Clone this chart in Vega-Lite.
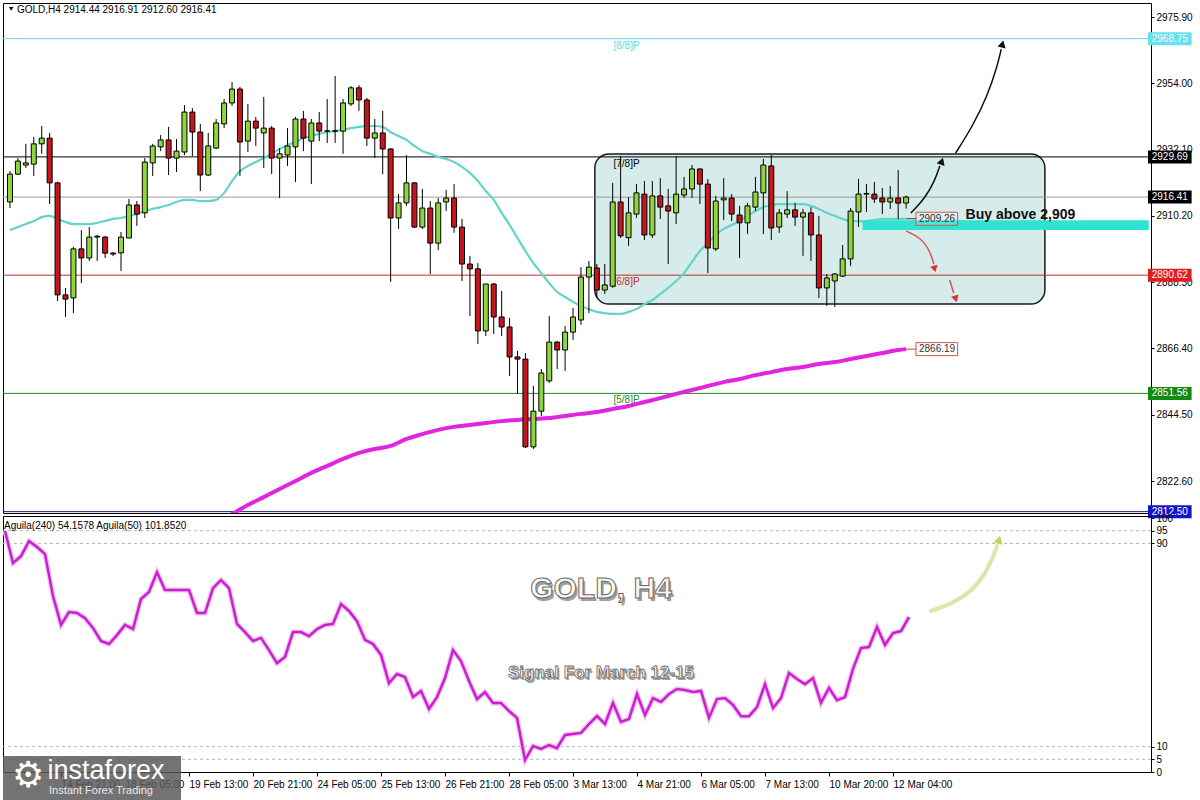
{
  "$schema": "https://vega.github.io/schema/vega-lite/v6.json",
  "background": "white",
  "padding": {"left": 2, "top": 2, "right": 0, "bottom": 0},
  "spacing": 3,
  "bounds": "flush",
  "config": {
    "view": {"stroke": "#000", "strokeWidth": 1},
    "font": "Liberation Sans",
    "axis": {"labelFont": "Liberation Sans", "labelFontSize": 10, "labelColor": "#000", "tickColor": "#000", "grid": false, "domain": false, "tickSize": 3, "labelPadding": 2, "labelOverlap": false, "labelFlush": false}
  },
  "datasets": {
    "bars": [
      {"i":0,"o":2914.8,"h":2925.0,"l":2912.8,"c":2924.0,"m":2905.5,"a":94.9},
      {"i":1,"o":2924.0,"h":2929.3,"l":2923.7,"c":2928.3,"m":2906.5,"a":82.3},
      {"i":2,"o":2927.0,"h":2934.0,"l":2926.0,"c":2927.7,"m":2907.5,"a":85.0},
      {"i":3,"o":2927.3,"h":2936.3,"l":2923.4,"c":2934.0,"m":2908.5,"a":90.9},
      {"i":4,"o":2934.0,"h":2939.9,"l":2930.7,"c":2935.9,"m":2909.8,"a":88.6},
      {"i":5,"o":2935.9,"h":2937.6,"l":2914.1,"c":2921.1,"m":2910.2,"a":85.8},
      {"i":6,"o":2921.1,"h":2921.5,"l":2882.1,"c":2884.1,"m":2909.2,"a":69.3},
      {"i":7,"o":2884.1,"h":2886.4,"l":2876.8,"c":2882.7,"m":2908.2,"a":57.9},
      {"i":8,"o":2883.1,"h":2899.9,"l":2878.1,"c":2899.3,"m":2907.5,"a":63.0},
      {"i":9,"o":2899.3,"h":2905.5,"l":2888.0,"c":2896.3,"m":2907.5,"a":62.6},
      {"i":10,"o":2896.3,"h":2906.5,"l":2895.3,"c":2903.2,"m":2907.5,"a":60.6},
      {"i":11,"o":2903.2,"h":2903.9,"l":2895.3,"c":2903.5,"m":2907.9,"a":56.7},
      {"i":12,"o":2903.2,"h":2903.6,"l":2896.3,"c":2897.9,"m":2908.5,"a":51.6},
      {"i":13,"o":2897.9,"h":2898.3,"l":2896.9,"c":2897.6,"m":2909.2,"a":50.4},
      {"i":14,"o":2898.0,"h":2904.9,"l":2892.0,"c":2903.2,"m":2909.5,"a":53.9},
      {"i":15,"o":2902.9,"h":2915.8,"l":2902.9,"c":2913.8,"m":2910.2,"a":57.9},
      {"i":16,"o":2913.8,"h":2915.1,"l":2906.9,"c":2910.8,"m":2910.8,"a":56.3},
      {"i":17,"o":2911.2,"h":2929.3,"l":2909.5,"c":2928.0,"m":2911.8,"a":68.1},
      {"i":18,"o":2927.7,"h":2934.0,"l":2923.4,"c":2933.3,"m":2912.5,"a":70.9},
      {"i":19,"o":2933.0,"h":2936.9,"l":2931.6,"c":2935.3,"m":2913.1,"a":78.7},
      {"i":20,"o":2935.3,"h":2939.6,"l":2923.7,"c":2929.3,"m":2913.8,"a":71.7},
      {"i":21,"o":2929.3,"h":2935.6,"l":2924.7,"c":2931.6,"m":2914.8,"a":71.7},
      {"i":22,"o":2931.3,"h":2946.8,"l":2930.3,"c":2944.5,"m":2915.5,"a":71.7},
      {"i":23,"o":2944.5,"h":2945.8,"l":2930.0,"c":2937.9,"m":2915.5,"a":71.7},
      {"i":24,"o":2937.9,"h":2940.6,"l":2918.4,"c":2923.7,"m":2915.1,"a":62.6},
      {"i":25,"o":2923.7,"h":2937.6,"l":2923.4,"c":2933.3,"m":2915.1,"a":62.6},
      {"i":26,"o":2932.6,"h":2942.2,"l":2932.3,"c":2940.9,"m":2915.5,"a":72.4},
      {"i":27,"o":2940.6,"h":2948.8,"l":2939.2,"c":2947.5,"m":2917.8,"a":75.6},
      {"i":28,"o":2947.5,"h":2954.4,"l":2946.5,"c":2952.1,"m":2921.7,"a":72.4},
      {"i":29,"o":2952.1,"h":2952.8,"l":2923.4,"c":2934.6,"m":2925.0,"a":58.3},
      {"i":30,"o":2934.9,"h":2947.2,"l":2931.3,"c":2941.5,"m":2926.7,"a":55.1},
      {"i":31,"o":2941.5,"h":2942.9,"l":2933.3,"c":2939.2,"m":2928.0,"a":51.6},
      {"i":32,"o":2937.6,"h":2949.5,"l":2926.0,"c":2939.2,"m":2929.3,"a":52.8},
      {"i":33,"o":2939.2,"h":2939.9,"l":2924.0,"c":2929.3,"m":2930.7,"a":48.0},
      {"i":34,"o":2929.3,"h":2932.6,"l":2916.1,"c":2930.7,"m":2932.3,"a":42.9},
      {"i":35,"o":2930.3,"h":2939.2,"l":2926.7,"c":2933.3,"m":2933.6,"a":45.3},
      {"i":36,"o":2933.0,"h":2942.9,"l":2921.4,"c":2942.2,"m":2934.6,"a":55.1},
      {"i":37,"o":2942.2,"h":2944.9,"l":2931.6,"c":2935.9,"m":2935.9,"a":55.1},
      {"i":38,"o":2934.9,"h":2942.2,"l":2920.7,"c":2940.9,"m":2936.6,"a":53.5},
      {"i":39,"o":2940.9,"h":2944.5,"l":2934.9,"c":2938.2,"m":2937.3,"a":56.3},
      {"i":40,"o":2938.2,"h":2948.8,"l":2934.3,"c":2938.3,"m":2937.9,"a":57.9},
      {"i":41,"o":2938.3,"h":2956.4,"l":2934.3,"c":2938.2,"m":2938.2,"a":58.3},
      {"i":42,"o":2938.2,"h":2948.8,"l":2930.7,"c":2947.5,"m":2938.6,"a":66.1},
      {"i":43,"o":2947.2,"h":2953.1,"l":2946.5,"c":2952.5,"m":2939.2,"a":63.4},
      {"i":44,"o":2952.5,"h":2953.4,"l":2944.9,"c":2948.5,"m":2939.6,"a":59.4},
      {"i":45,"o":2948.5,"h":2949.2,"l":2933.3,"c":2935.9,"m":2939.9,"a":52.0},
      {"i":46,"o":2935.9,"h":2942.2,"l":2929.3,"c":2937.6,"m":2939.9,"a":50.4},
      {"i":47,"o":2937.6,"h":2944.9,"l":2924.0,"c":2932.3,"m":2939.6,"a":46.1},
      {"i":48,"o":2932.3,"h":2932.6,"l":2888.4,"c":2909.5,"m":2937.9,"a":35.0},
      {"i":49,"o":2909.5,"h":2917.4,"l":2905.9,"c":2914.5,"m":2936.6,"a":38.6},
      {"i":50,"o":2914.5,"h":2930.3,"l":2913.5,"c":2921.1,"m":2935.3,"a":37.4},
      {"i":51,"o":2921.1,"h":2921.4,"l":2906.2,"c":2906.5,"m":2933.3,"a":29.5},
      {"i":52,"o":2906.5,"h":2919.1,"l":2905.9,"c":2912.8,"m":2931.6,"a":31.9},
      {"i":53,"o":2912.8,"h":2915.1,"l":2891.0,"c":2901.2,"m":2930.7,"a":24.8},
      {"i":54,"o":2901.2,"h":2916.1,"l":2898.9,"c":2914.5,"m":2929.7,"a":29.5},
      {"i":55,"o":2914.8,"h":2918.8,"l":2911.8,"c":2916.1,"m":2929.0,"a":37.0},
      {"i":56,"o":2916.1,"h":2920.7,"l":2904.6,"c":2906.5,"m":2928.0,"a":48.0},
      {"i":57,"o":2906.5,"h":2909.2,"l":2888.7,"c":2894.3,"m":2926.4,"a":43.7},
      {"i":58,"o":2894.3,"h":2897.0,"l":2877.1,"c":2892.7,"m":2924.4,"a":35.8},
      {"i":59,"o":2892.7,"h":2894.6,"l":2867.9,"c":2872.2,"m":2921.7,"a":28.7},
      {"i":60,"o":2872.2,"h":2887.7,"l":2870.5,"c":2887.7,"m":2918.4,"a":31.5},
      {"i":61,"o":2887.7,"h":2888.0,"l":2871.2,"c":2876.8,"m":2915.5,"a":27.2},
      {"i":62,"o":2876.8,"h":2885.4,"l":2870.5,"c":2873.5,"m":2911.2,"a":27.2},
      {"i":63,"o":2873.5,"h":2876.5,"l":2857.3,"c":2863.6,"m":2907.2,"a":24.0},
      {"i":64,"o":2863.6,"h":2865.6,"l":2851.4,"c":2862.9,"m":2902.9,"a":21.3},
      {"i":65,"o":2862.9,"h":2864.9,"l":2833.5,"c":2833.9,"m":2898.6,"a":4.7},
      {"i":66,"o":2833.9,"h":2854.0,"l":2833.2,"c":2845.7,"m":2894.6,"a":10.2},
      {"i":67,"o":2845.7,"h":2859.6,"l":2844.1,"c":2858.3,"m":2891.3,"a":9.1},
      {"i":68,"o":2855.7,"h":2877.1,"l":2855.0,"c":2868.5,"m":2888.0,"a":10.6},
      {"i":69,"o":2868.5,"h":2868.9,"l":2859.6,"c":2865.9,"m":2885.1,"a":9.4},
      {"i":70,"o":2865.9,"h":2873.8,"l":2859.0,"c":2871.8,"m":2883.4,"a":14.6},
      {"i":71,"o":2871.8,"h":2879.8,"l":2869.2,"c":2876.8,"m":2881.8,"a":15.0},
      {"i":72,"o":2875.8,"h":2893.3,"l":2874.2,"c":2890.0,"m":2880.4,"a":15.4},
      {"i":73,"o":2890.0,"h":2895.3,"l":2878.1,"c":2893.3,"m":2879.4,"a":18.9},
      {"i":74,"o":2893.0,"h":2894.3,"l":2883.1,"c":2885.7,"m":2878.5,"a":22.0},
      {"i":75,"o":2885.7,"h":2894.3,"l":2884.4,"c":2887.4,"m":2878.1,"a":18.9},
      {"i":76,"o":2887.0,"h":2921.1,"l":2886.4,"c":2914.8,"m":2877.8,"a":27.2},
      {"i":77,"o":2914.8,"h":2930.0,"l":2902.9,"c":2903.6,"m":2877.8,"a":19.7},
      {"i":78,"o":2903.0,"h":2916.4,"l":2900.3,"c":2911.2,"m":2878.5,"a":20.9},
      {"i":79,"o":2910.8,"h":2920.7,"l":2909.5,"c":2917.8,"m":2879.4,"a":30.7},
      {"i":80,"o":2917.4,"h":2921.7,"l":2902.2,"c":2903.9,"m":2881.1,"a":22.4},
      {"i":81,"o":2903.9,"h":2921.7,"l":2902.9,"c":2916.8,"m":2882.4,"a":29.1},
      {"i":82,"o":2916.8,"h":2922.7,"l":2909.2,"c":2913.1,"m":2884.4,"a":27.6},
      {"i":83,"o":2913.5,"h":2919.1,"l":2894.3,"c":2911.8,"m":2886.4,"a":30.7},
      {"i":84,"o":2911.2,"h":2930.0,"l":2907.5,"c":2917.4,"m":2888.7,"a":32.7},
      {"i":85,"o":2917.1,"h":2923.1,"l":2916.1,"c":2919.1,"m":2891.3,"a":32.3},
      {"i":86,"o":2919.1,"h":2927.0,"l":2916.1,"c":2925.7,"m":2895.0,"a":31.5},
      {"i":87,"o":2925.7,"h":2925.9,"l":2914.1,"c":2920.7,"m":2898.6,"a":31.9},
      {"i":88,"o":2920.7,"h":2922.4,"l":2891.3,"c":2899.6,"m":2901.2,"a":21.3},
      {"i":89,"o":2899.3,"h":2916.8,"l":2898.6,"c":2915.1,"m":2903.9,"a":28.7},
      {"i":90,"o":2915.5,"h":2922.7,"l":2908.8,"c":2916.1,"m":2905.9,"a":29.1},
      {"i":91,"o":2916.1,"h":2917.4,"l":2908.5,"c":2910.8,"m":2907.2,"a":26.4},
      {"i":92,"o":2910.5,"h":2913.5,"l":2896.3,"c":2907.9,"m":2908.5,"a":22.0},
      {"i":93,"o":2907.9,"h":2914.5,"l":2904.2,"c":2913.5,"m":2910.2,"a":22.0},
      {"i":94,"o":2913.1,"h":2923.1,"l":2911.8,"c":2918.1,"m":2911.8,"a":25.6},
      {"i":95,"o":2917.8,"h":2929.0,"l":2904.2,"c":2927.0,"m":2913.1,"a":34.6},
      {"i":96,"o":2926.7,"h":2930.3,"l":2902.2,"c":2906.2,"m":2913.8,"a":25.2},
      {"i":97,"o":2906.5,"h":2912.5,"l":2904.6,"c":2911.2,"m":2914.1,"a":29.1},
      {"i":98,"o":2910.8,"h":2918.4,"l":2909.5,"c":2912.2,"m":2914.1,"a":39.0},
      {"i":99,"o":2912.2,"h":2914.5,"l":2906.9,"c":2909.8,"m":2914.1,"a":36.6},
      {"i":100,"o":2909.8,"h":2912.5,"l":2897.0,"c":2911.2,"m":2914.1,"a":34.6},
      {"i":101,"o":2911.2,"h":2913.1,"l":2895.3,"c":2903.9,"m":2913.5,"a":37.0},
      {"i":102,"o":2903.9,"h":2910.2,"l":2883.1,"c":2886.4,"m":2912.5,"a":27.2},
      {"i":103,"o":2886.4,"h":2891.0,"l":2880.4,"c":2889.7,"m":2911.2,"a":33.1},
      {"i":104,"o":2888.7,"h":2891.3,"l":2880.1,"c":2891.0,"m":2910.2,"a":28.3},
      {"i":105,"o":2890.3,"h":2900.6,"l":2890.0,"c":2896.0,"m":2909.2,"a":29.5},
      {"i":106,"o":2896.0,"h":2912.8,"l":2893.7,"c":2911.8,"m":2908.5,"a":40.6},
      {"i":107,"o":2911.5,"h":2922.4,"l":2906.5,"c":2917.4,"m":2908.5,"a":48.8},
      {"i":108,"o":2917.4,"h":2920.7,"l":2911.5,"c":2917.6,"m":2908.5,"a":49.2},
      {"i":109,"o":2917.4,"h":2921.4,"l":2914.5,"c":2915.8,"m":2908.8,"a":57.1},
      {"i":110,"o":2916.1,"h":2919.4,"l":2910.8,"c":2914.8,"m":2909.2,"a":50.0},
      {"i":111,"o":2914.8,"h":2920.1,"l":2912.5,"c":2916.1,"m":2909.2,"a":54.7},
      {"i":112,"o":2916.1,"h":2925.4,"l":2909.2,"c":2914.4,"m":2909.2,"a":55.5},
      {"i":113,"o":2914.44,"h":2916.91,"l":2912.6,"c":2916.41,"m":2909.26,"a":61.0}
    ],
    "m200": [
      {"i":27,"v":2810.4},{"i":28,"v":2811.7},{"i":30,"v":2814.7},{"i":32,"v":2817.3},{"i":34,"v":2820.0},
      {"i":36,"v":2822.6},{"i":38,"v":2825.3},{"i":40,"v":2827.6},{"i":42,"v":2829.9},{"i":44,"v":2831.9},
      {"i":46,"v":2833.2},{"i":48,"v":2834.2},{"i":50,"v":2836.5},{"i":52,"v":2838.1},{"i":54,"v":2839.5},
      {"i":56,"v":2840.5},{"i":58,"v":2841.1},{"i":60,"v":2841.8},{"i":62,"v":2842.4},{"i":64,"v":2842.8},
      {"i":66,"v":2843.1},{"i":68,"v":2843.4},{"i":70,"v":2844.1},{"i":72,"v":2844.8},{"i":74,"v":2845.4},
      {"i":76,"v":2846.4},{"i":78,"v":2847.4},{"i":80,"v":2848.7},{"i":82,"v":2850.0},{"i":84,"v":2851.4},
      {"i":86,"v":2852.7},{"i":88,"v":2854.0},{"i":90,"v":2855.3},{"i":92,"v":2856.3},{"i":94,"v":2857.6},
      {"i":96,"v":2858.6},{"i":98,"v":2859.6},{"i":100,"v":2860.3},{"i":102,"v":2861.3},{"i":104,"v":2861.9},
      {"i":106,"v":2862.9},{"i":108,"v":2863.9},{"i":110,"v":2864.9},{"i":112,"v":2865.9},{"i":113,"v":2866.19}
    ],
    "lv": [
      {"n":"8/8","p":2968.75,"lab":"[8/8]P"},
      {"n":"7/8","p":2929.69,"lab":"[7/8]P"},
      {"n":"cur","p":2916.41,"lab":""},
      {"n":"6/8","p":2890.62,"lab":"[6/8]P"},
      {"n":"5/8","p":2851.56,"lab":"[5/8]P"},
      {"n":"4/8","p":2812.5,"lab":"[4/8]P"}
    ],
    "arw": [
      {"g":"b1","i":113.6,"p":2911.15},{"g":"b1","i":115.4,"p":2916.1},{"g":"b1","i":116.6,"p":2921.7},{"g":"b1","i":117.25,"p":2926.7},
      {"g":"b2","i":119.25,"p":2930.97},{"g":"b2","i":121.4,"p":2939.9},{"g":"b2","i":123.25,"p":2949.8},{"g":"b2","i":124.5,"p":2959.7},{"g":"b2","i":125.0,"p":2965.3},
      {"g":"r1","i":113.0,"p":2905.2},{"g":"r1","i":114.9,"p":2902.9},{"g":"r1","i":116.0,"p":2898.6},{"g":"r1","i":116.5,"p":2894.3},
      {"g":"r2","i":118.5,"p":2889.0},{"g":"r2","i":119.0,"p":2884.7}
    ],
    "yarw": [
      {"i":115.75,"v":63.4},{"i":118.9,"v":66.9},{"i":121.4,"v":72.8},{"i":123.1,"v":81.1},{"i":124.0,"v":89.0}
    ]
  },
  "vconcat": [
    {
      "width": 1148,
      "height": 510,
      "layer": [
        {
          "data": {"values": [{}]},
          "mark": {"type": "rect", "fill": "#d6ecea", "stroke": "#1a1a1a", "strokeWidth": 1.5, "cornerRadius": 14},
          "encoding": {
            "x": {"datum": 73.75, "type": "quantitative", "scale": {"domain": [-0.25, 143.25], "nice": false, "zero": false}, "axis": null},
            "x2": {"datum": 130.5},
            "y": {"datum": 2930.65, "type": "quantitative", "scale": {"domain": [2812.05, 2980.53], "nice": false, "zero": false},
                  "axis": {"orient": "right", "title": null, "format": ".2f", "values": [2822.6, 2833.7, 2844.5, 2855.6, 2866.4, 2877.5, 2888.3, 2899.4, 2910.2, 2921.3, 2932.1, 2943.2, 2954.0, 2965.1, 2975.9]}},
            "y2": {"datum": 2881.09}
          }
        },
        {
          "data": {"name": "lv"},
          "mark": {"type": "rule", "strokeWidth": 1},
          "encoding": {
            "y": {"field": "p", "type": "quantitative", "title": null},
            "color": {"field": "n", "type": "nominal", "legend": null,
                      "scale": {"domain": ["8/8", "7/8", "cur", "6/8", "5/8", "4/8"], "range": ["#62d8e6", "#000000", "#9b9b9b", "#c02a2a", "#238a23", "#1c1c80"]}}
          }
        },
        {
          "data": {"name": "lv"},
          "transform": [{"filter": "datum.n != 'cur'"}],
          "mark": {"type": "text", "align": "left", "baseline": "top", "dy": 2, "fontSize": 10, "clip": true},
          "encoding": {
            "x": {"datum": 76.1, "type": "quantitative"},
            "y": {"field": "p", "type": "quantitative", "title": null},
            "text": {"field": "lab"},
            "color": {"field": "n", "type": "nominal", "legend": null}
          }
        },
        {
          "data": {"name": "bars"},
          "mark": {"type": "line", "color": "#62d4c9", "strokeWidth": 2.2, "interpolate": "monotone"},
          "encoding": {
            "x": {"field": "i", "type": "quantitative", "title": null},
            "y": {"field": "m", "type": "quantitative", "title": null}
          }
        },
        {
          "data": {"name": "m200"},
          "mark": {"type": "line", "color": "#e024e0", "strokeWidth": 4, "clip": true, "interpolate": "monotone"},
          "encoding": {
            "x": {"field": "i", "type": "quantitative", "title": null},
            "y": {"field": "v", "type": "quantitative", "title": null}
          }
        },
        {
          "data": {"name": "bars"},
          "mark": {"type": "rule", "color": "#000", "strokeWidth": 1},
          "encoding": {
            "x": {"field": "i", "type": "quantitative", "title": null},
            "y": {"field": "l", "type": "quantitative", "title": null},
            "y2": {"field": "h"}
          }
        },
        {
          "data": {"name": "bars"},
          "mark": {"type": "bar", "width": 5, "stroke": "#000", "strokeWidth": 1},
          "encoding": {
            "x": {"field": "i", "type": "quantitative", "title": null},
            "y": {"field": "o", "type": "quantitative", "title": null},
            "y2": {"field": "c"},
            "fill": {"condition": {"test": "datum.c >= datum.o", "value": "#8fd63c"}, "value": "#c4161c"}
          }
        },
        {
          "data": {"values": [{}]},
          "mark": {"type": "rect", "fill": "#2ee3cf"},
          "encoding": {
            "x": {"datum": 107.5, "type": "quantitative"},
            "x2": {"datum": 143.6},
            "y": {"datum": 2905.5, "type": "quantitative"},
            "y2": {"datum": 2908.8}
          }
        },
        {
          "data": {"values": [{"p": 2909.26}]},
          "mark": {"type": "rule", "color": "#333", "strokeWidth": 1},
          "encoding": {"x": {"datum": 113, "type": "quantitative"}, "x2": {"datum": 114.25}, "y": {"field": "p", "type": "quantitative", "title": null}}
        },
        {
          "data": {"values": [{"p": 2866.19}]},
          "mark": {"type": "rule", "color": "#d04040", "strokeWidth": 1},
          "encoding": {"x": {"datum": 113, "type": "quantitative"}, "x2": {"datum": 114.25}, "y": {"field": "p", "type": "quantitative", "title": null}}
        },
        {
          "data": {"values": [{"p": 2909.26}, {"p": 2866.19}]},
          "mark": {"type": "rect", "fill": "#ffffff", "fillOpacity": 0.15, "stroke": "#d9534f", "strokeWidth": 1, "yOffset": -6.5, "y2Offset": 6.5},
          "encoding": {
            "x": {"datum": 114.25, "type": "quantitative"},
            "x2": {"datum": 119.5},
            "y": {"field": "p", "type": "quantitative", "title": null},
            "y2": {"field": "p"}
          }
        },
        {
          "data": {"values": [{"p": 2909.26}, {"p": 2866.19}]},
          "mark": {"type": "text", "fontSize": 10, "color": "#333", "align": "center", "baseline": "middle"},
          "encoding": {
            "x": {"datum": 116.9, "type": "quantitative"},
            "y": {"field": "p", "type": "quantitative", "title": null},
            "text": {"field": "p", "format": ".2f"}
          }
        },
        {
          "data": {"values": [{"t": "Buy above 2,909"}]},
          "mark": {"type": "text", "fontSize": 14, "fontWeight": "bold", "color": "#111", "align": "left", "baseline": "middle", "font": "Liberation Sans"},
          "encoding": {
            "x": {"datum": 120.5, "type": "quantitative"},
            "y": {"datum": 2910.5, "type": "quantitative"},
            "text": {"field": "t"}
          }
        },
        {
          "data": {"name": "arw"},
          "mark": {"type": "line", "interpolate": "basis", "strokeWidth": 1.5},
          "encoding": {
            "x": {"field": "i", "type": "quantitative", "title": null},
            "y": {"field": "p", "type": "quantitative", "title": null},
            "stroke": {"field": "g", "type": "nominal", "legend": null,
                       "scale": {"domain": ["b1", "b2", "r1", "r2"], "range": ["#111111", "#111111", "#e05050", "#e05050"]}}
          }
        },
        {
          "data": {"values": [{}]},
          "mark": {"type": "point", "shape": "triangle-up", "filled": true, "color": "#111", "size": 70, "angle": 19, "opacity": 1},
          "encoding": {"x": {"datum": 117.5, "type": "quantitative"}, "y": {"datum": 2928.3, "type": "quantitative"}}
        },
        {
          "data": {"values": [{}]},
          "mark": {"type": "point", "shape": "triangle-up", "filled": true, "color": "#111", "size": 70, "angle": 14, "opacity": 1},
          "encoding": {"x": {"datum": 125.15, "type": "quantitative"}, "y": {"datum": 2967.0, "type": "quantitative"}}
        },
        {
          "data": {"values": [{}]},
          "mark": {"type": "point", "shape": "triangle-down", "filled": true, "color": "#e03030", "size": 60, "angle": -15, "opacity": 1},
          "encoding": {"x": {"datum": 116.6, "type": "quantitative"}, "y": {"datum": 2892.7, "type": "quantitative"}}
        },
        {
          "data": {"values": [{}]},
          "mark": {"type": "point", "shape": "triangle-down", "filled": true, "color": "#e03030", "size": 60, "angle": -16, "opacity": 1},
          "encoding": {"x": {"datum": 119.25, "type": "quantitative"}, "y": {"datum": 2882.8, "type": "quantitative"}}
        },
        {
          "data": {"name": "lv"},
          "mark": {"type": "rect", "yOffset": -6.5, "y2Offset": 6.5},
          "encoding": {
            "x": {"datum": 143.5, "type": "quantitative"},
            "x2": {"datum": 149.0},
            "y": {"field": "p", "type": "quantitative", "title": null},
            "y2": {"field": "p"},
            "fill": {"field": "n", "type": "nominal", "legend": null,
                     "scale": {"domain": ["8/8", "7/8", "cur", "6/8", "5/8", "4/8"], "range": ["#66e0ee", "#000000", "#000000", "#e02020", "#128a12", "#1414c8"]}}
          }
        },
        {
          "data": {"name": "lv"},
          "mark": {"type": "text", "color": "#ffffff", "fontSize": 10, "align": "center", "baseline": "middle"},
          "encoding": {
            "x": {"datum": 146.25, "type": "quantitative"},
            "y": {"field": "p", "type": "quantitative", "title": null},
            "text": {"field": "p", "format": ".2f"}
          }
        },
        {
          "data": {"values": [{}]},
          "mark": {"type": "point", "shape": "triangle-down", "filled": true, "color": "#000", "size": 20, "opacity": 1},
          "encoding": {"x": {"datum": 0.15, "type": "quantitative"}, "y": {"datum": 2978.6, "type": "quantitative"}}
        },
        {
          "data": {"values": [{"t": "GOLD,H4  2914.44 2916.91 2912.60 2916.41"}]},
          "mark": {"type": "text", "fontSize": 10, "color": "#000", "align": "left", "baseline": "middle"},
          "encoding": {
            "x": {"datum": 0.875, "type": "quantitative"},
            "y": {"datum": 2978.2, "type": "quantitative"},
            "text": {"field": "t"}
          }
        }
      ]
    },
    {
      "width": 1148,
      "height": 256,
      "layer": [
        {
          "data": {"values": [{"v": 95}, {"v": 90}, {"v": 10}, {"v": 5}]},
          "mark": {"type": "rule", "color": "#b5b5b5", "strokeDash": [3, 3], "strokeWidth": 1},
          "encoding": {
            "y": {"field": "v", "type": "quantitative", "scale": {"domain": [0, 100.8], "nice": false, "zero": false},
                  "axis": {"orient": "right", "title": null, "values": [0, 5, 10, 90, 95, 100]}}
          }
        },
        {
          "data": {"name": "bars"},
          "mark": {"type": "line", "color": "#f2c4f2", "strokeWidth": 5, "clip": true},
          "encoding": {
            "x": {"field": "i", "type": "quantitative", "scale": {"domain": [-0.25, 143.25], "nice": false, "zero": false},
                  "axis": {"orient": "bottom", "title": null, "tickSize": 4, "labelAlign": "left", "labelBaseline": "top", "labelPadding": 3,
                           "values": [7, 15, 23, 31, 39, 47, 55, 63, 71, 79, 87, 95, 103, 111],
                           "labelExpr": "datum.value==7?'14 Feb 21:00':datum.value==15?'18 Feb 05:00':datum.value==23?'19 Feb 13:00':datum.value==31?'20 Feb 21:00':datum.value==39?'24 Feb 05:00':datum.value==47?'25 Feb 13:00':datum.value==55?'26 Feb 21:00':datum.value==63?'28 Feb 05:00':datum.value==71?'3 Mar 13:00':datum.value==79?'4 Mar 21:00':datum.value==87?'6 Mar 05:00':datum.value==95?'7 Mar 13:00':datum.value==103?'10 Mar 20:00':'12 Mar 04:00'"}},
            "y": {"field": "a", "type": "quantitative", "title": null}
          }
        },
        {
          "data": {"name": "bars"},
          "mark": {"type": "line", "color": "#cc1fd1", "strokeWidth": 2.5, "clip": true},
          "encoding": {
            "x": {"field": "i", "type": "quantitative", "title": null},
            "y": {"field": "a", "type": "quantitative", "title": null}
          }
        },
        {
          "data": {"name": "yarw"},
          "mark": {"type": "line", "interpolate": "basis", "color": "#dfe4a8", "strokeWidth": 4, "strokeCap": "round"},
          "encoding": {
            "x": {"field": "i", "type": "quantitative", "title": null},
            "y": {"field": "v", "type": "quantitative", "title": null}
          }
        },
        {
          "data": {"values": [{}]},
          "mark": {"type": "point", "shape": "triangle-up", "filled": true, "color": "#c9d062", "size": 90, "angle": 15, "opacity": 1},
          "encoding": {"x": {"datum": 124.25, "type": "quantitative"}, "y": {"datum": 91.5, "type": "quantitative"}}
        },
        {
          "data": {"values": [{"t": "GOLD, H4"}]},
          "mark": {"type": "text", "fontSize": 30, "fontWeight": "bold", "font": "Liberation Sans", "color": "#7a7a7a", "opacity": 0.7, "dx": 2, "dy": 3, "align": "center", "baseline": "middle"},
          "encoding": {"x": {"datum": 74.5, "type": "quantitative"}, "y": {"datum": 72.0, "type": "quantitative"}, "text": {"field": "t"}}
        },
        {
          "data": {"values": [{"t": "GOLD, H4"}]},
          "mark": {"type": "text", "fontSize": 30, "fontWeight": "bold", "font": "Liberation Sans", "fill": "#f7f7f7", "stroke": "#6a6a6a", "strokeWidth": 1, "align": "center", "baseline": "middle"},
          "encoding": {"x": {"datum": 74.5, "type": "quantitative"}, "y": {"datum": 72.0, "type": "quantitative"}, "text": {"field": "t"}}
        },
        {
          "data": {"values": [{"t": "Signal For March 12-15"}]},
          "mark": {"type": "text", "fontSize": 17, "fontWeight": "bold", "font": "Liberation Sans", "color": "#7a7a7a", "opacity": 0.7, "dx": 1.5, "dy": 2, "align": "center", "baseline": "middle"},
          "encoding": {"x": {"datum": 74.5, "type": "quantitative"}, "y": {"datum": 39.0, "type": "quantitative"}, "text": {"field": "t"}}
        },
        {
          "data": {"values": [{"t": "Signal For March 12-15"}]},
          "mark": {"type": "text", "fontSize": 17, "fontWeight": "bold", "font": "Liberation Sans", "fill": "#f7f7f7", "stroke": "#6a6a6a", "strokeWidth": 0.8, "align": "center", "baseline": "middle"},
          "encoding": {"x": {"datum": 74.5, "type": "quantitative"}, "y": {"datum": 39.0, "type": "quantitative"}, "text": {"field": "t"}}
        },
        {
          "data": {"values": [{"t": "Aguila(240) 54.1578   Aguila(50) 101.8520"}]},
          "mark": {"type": "text", "fontSize": 10, "color": "#000", "align": "left", "baseline": "middle"},
          "encoding": {"x": {"datum": -0.125, "type": "quantitative"}, "y": {"datum": 96.9, "type": "quantitative"}, "text": {"field": "t"}}
        },
        {
          "data": {"values": [{}]},
          "mark": {"type": "rect", "fill": "#5a5a5a", "opacity": 0.85},
          "encoding": {
            "x": {"datum": -0.25, "type": "quantitative"},
            "x2": {"datum": 22},
            "y": {"datum": 6.3, "type": "quantitative"},
            "y2": {"datum": -11.2}
          }
        },
        {
          "data": {"values": [{"t": "⚙"}]},
          "mark": {"type": "text", "fontSize": 36, "color": "#ffffff", "align": "center", "baseline": "middle", "font": "DejaVu Sans"},
          "encoding": {"x": {"datum": 2.9, "type": "quantitative"}, "y": {"datum": -1.6, "type": "quantitative"}, "text": {"field": "t"}}
        },
        {
          "data": {"values": [{"t": "instaforex"}]},
          "mark": {"type": "text", "fontSize": 27, "color": "#ffffff", "align": "left", "baseline": "middle", "font": "Liberation Sans"},
          "encoding": {"x": {"datum": 5.3, "type": "quantitative"}, "y": {"datum": 0.4, "type": "quantitative"}, "text": {"field": "t"}}
        },
        {
          "data": {"values": [{"t": "Instant Forex Trading"}]},
          "mark": {"type": "text", "fontSize": 11, "color": "#e8e8e8", "align": "left", "baseline": "middle", "font": "Liberation Sans"},
          "encoding": {"x": {"datum": 5.5, "type": "quantitative"}, "y": {"datum": -7.3, "type": "quantitative"}, "text": {"field": "t"}}
        }
      ]
    }
  ]
}
